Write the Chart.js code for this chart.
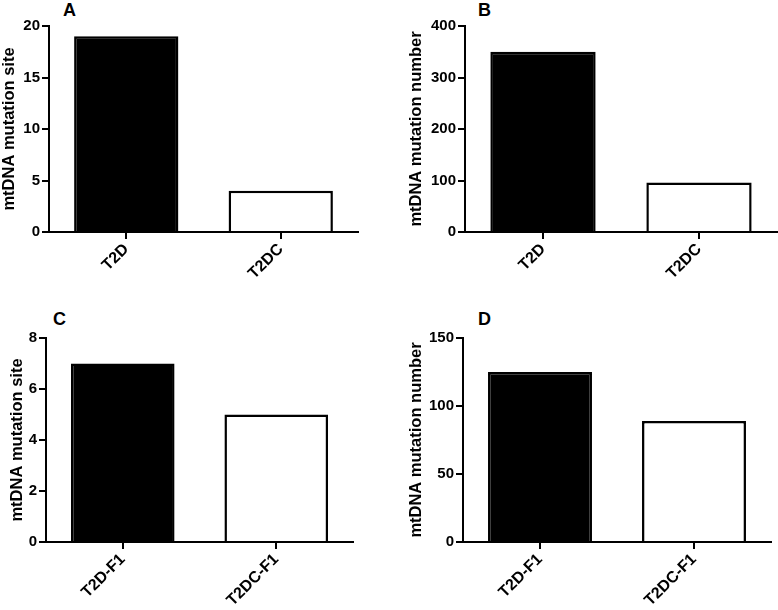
<!DOCTYPE html>
<html>
<head>
<meta charset="utf-8">
<script src="https://cdn.jsdelivr.net/npm/chart.js@4/dist/chart.umd.min.js"></script>
<style>
  html, body { margin: 0; padding: 0; background: #fff; }
  body { width: 778px; height: 610px; position: relative; overflow: hidden; }
  canvas { position: absolute; }
  .letter { position: absolute; font: bold 18px "Liberation Sans", Arial, sans-serif; color: #000; line-height: 1; }
</style>
</head>
<body>
<div class="letter" style="left:63px;top:1px;">A</div>
<div class="letter" style="left:478px;top:1px;">B</div>
<div class="letter" style="left:53px;top:310px;">C</div>
<div class="letter" style="left:478px;top:310px;">D</div>
<canvas id="cA" width="389" height="300" style="left:0px;top:0px;"></canvas>
<canvas id="cB" width="371" height="300" style="left:407px;top:0px;"></canvas>
<canvas id="cC" width="381" height="310" style="left:8px;top:300px;"></canvas>
<canvas id="cD" width="371" height="310" style="left:407px;top:300px;"></canvas>
<script>
// ---- data ----
const categoriesTop = ['T2D', 'T2DC'];
const categoriesBottom = ['T2D-F1', 'T2DC-F1'];
const mutationSiteTop = [19, 4];
const mutationNumberTop = [350, 96];
const mutationSiteBottom = [7, 5];
const mutationNumberBottom = [125, 89];
const yTitleSite = 'mtDNA mutation site';
const yTitleNumber = 'mtDNA mutation number';
const yMaxA = 20, yStepA = 5;
const yMaxB = 400, yStepB = 100;
const yMaxC = 8, yStepC = 2;
const yMaxD = 150, yStepD = 50;

const barColors = ['#000000', '#ffffff'];
const FONT = '"Liberation Sans", Arial, Helvetica, sans-serif';

function makeChart(id, labels, values, yTitle, yMax, yStep, layout) {
  return new Chart(document.getElementById(id), {
    type: 'bar',
    data: {
      labels: labels,
      datasets: [{
        data: values,
        backgroundColor: barColors,
        borderColor: '#000',
        borderWidth: 2.5,
        categoryPercentage: 1,
        barPercentage: 0.675
      }]
    },
    options: {
      responsive: false,
      animation: false,
      devicePixelRatio: 1,
      layout: { padding: { top: layout.top, right: layout.right, left: 0, bottom: 0 } },
      plugins: { legend: { display: false }, tooltip: { enabled: false }, title: { display: false } },
      scales: {
        x: {
          offset: true,
          grid: { display: true, offset: false, drawOnChartArea: false, drawTicks: true, tickLength: 7, lineWidth: 2, color: '#000' },
          border: { display: true, color: '#000', width: 2 },
          ticks: { color: '#000', font: { family: FONT, size: 16, weight: 'bold' }, maxRotation: 45, minRotation: 45, autoSkip: false, padding: 1 },
          afterFit: (s) => { s.height = layout.xh; }
        },
        y: {
          min: 0, max: yMax,
          grid: { display: true, drawOnChartArea: false, drawTicks: true, tickLength: 7, lineWidth: 2, color: '#000' },
          border: { display: true, color: '#000', width: 2 },
          ticks: { stepSize: yStep, color: '#000', font: { family: FONT, size: 15, weight: 'bold' }, padding: 2 },
          title: { display: true, text: yTitle, color: '#000', font: { family: FONT, size: 16.5, weight: 'bold' }, padding: { top: 0, bottom: 0 } },
          afterFit: (s) => { s.width = layout.yw; }
        }
      }
    }
  });
}

makeChart('cA', categoriesTop, mutationSiteTop, yTitleSite, yMaxA, yStepA, { top: 26, right: 31, yw: 49, xh: 68 });
makeChart('cB', categoriesTop, mutationNumberTop, yTitleNumber, yMaxB, yStepB, { top: 26, right: 1, yw: 58, xh: 68 });
makeChart('cC', categoriesBottom, mutationSiteBottom, yTitleSite, yMaxC, yStepC, { top: 38, right: 36, yw: 38, xh: 68 });
makeChart('cD', categoriesBottom, mutationNumberBottom, yTitleNumber, yMaxD, yStepD, { top: 38, right: 7, yw: 56, xh: 68 });
</script>
</body>
</html>
